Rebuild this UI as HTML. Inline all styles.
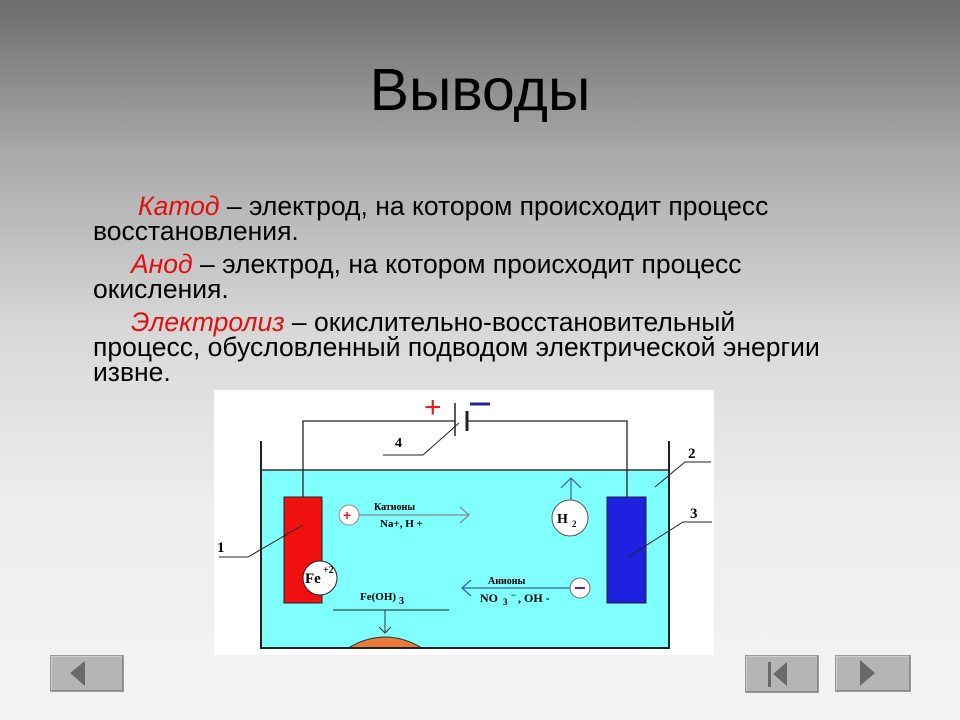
<!DOCTYPE html>
<html><head><meta charset="utf-8"><style>
html,body{margin:0;padding:0}
body{width:960px;height:720px;overflow:hidden;position:relative;background:linear-gradient(#6c6c6c 0px,#a8a8a8 150px,#d8d8d8 330px,#ededed 500px,#f4f4f4 720px);font-family:"Liberation Sans",sans-serif}
h1{position:absolute;left:0;width:960px;top:56px;margin:0;text-align:center;font-weight:normal;font-size:59px;color:#000}
.t{position:absolute;left:93px;width:750px;font-size:26.5px;line-height:25px;color:#000}
.r{color:#e01010;font-style:italic}
.btn{position:absolute;background:#b5b5b5;border:1px solid #9a9a9a;box-shadow:inset -1px -1px 0 #8a8a8a,inset 1px 1px 0 #ccc}
</style></head><body>
<h1>Выводы</h1>
<div class="t" style="top:194px"><span style="padding-left:45px"></span><span class="r">Катод</span> – электрод, на котором происходит процесс восстановления.</div>
<div class="t" style="top:252px"><span style="padding-left:38px"></span><span class="r">Анод</span> – электрод, на котором происходит процесс окисления.</div>
<div class="t" style="top:310px"><span style="padding-left:38px"></span><span class="r">Электролиз</span> – окислительно-восстановительный процесс, обусловленный подводом электрической энергии извне.</div>
<svg style="position:absolute;left:0;top:0" width="960" height="720" font-family="Liberation Serif,serif" font-weight="bold">
<rect x="214" y="390" width="500" height="265" fill="#fff"/>
<rect x="261" y="470" width="408" height="178" fill="#80ffff"/>
<path d="M348 648 Q385 626 422 648Z" fill="#e87a3c" stroke="#333"/>
<path d="M261 441V648H669V441" fill="none" stroke="#222" stroke-width="2"/>
<line x1="261" y1="470" x2="669" y2="470" stroke="#333" stroke-width="1.5"/>
<path d="M303 497V421H455M467 421H627V497" fill="none" stroke="#222" stroke-width="1.3"/>
<line x1="455" y1="403" x2="455" y2="436" stroke="#222" stroke-width="1.5"/>
<line x1="467" y1="411" x2="467" y2="431" stroke="#222" stroke-width="3"/>
<text x="424" y="417" font-size="30" fill="#e02020" font-family="Liberation Sans" font-weight="normal">+</text>
<line x1="470" y1="404" x2="490" y2="404" stroke="#2020a0" stroke-width="3"/>
<path d="M383 455H423L459 423" fill="none" stroke="#222"/>
<text x="395" y="447" font-size="14">4</text>
<rect x="284" y="497" width="38" height="106" fill="#f01010" stroke="#222"/>
<rect x="607" y="497" width="39" height="106" fill="#2020e0" stroke="#222"/>
<path d="M219 557H248L303 525" fill="none" stroke="#222"/>
<text x="217" y="552" font-size="15">1</text>
<path d="M655 487L685 462H711" fill="none" stroke="#222"/>
<text x="688" y="458" font-size="15">2</text>
<path d="M628 557L683 522H712" fill="none" stroke="#222"/>
<text x="690" y="518" font-size="15">3</text>
<circle cx="320" cy="578" r="17" fill="#fff" stroke="#222"/>
<text x="305" y="583" font-size="15">Fe</text><text x="323" y="573" font-size="10">+2</text>
<circle cx="349" cy="515" r="10" fill="#fff" stroke="#888"/>
<text x="343" y="520" font-size="14" fill="#e02020" font-family="Liberation Sans">+</text>
<path d="M359 515H469M460 507L469 515L460 523" fill="none" stroke="#888" stroke-width="1.2"/>
<text x="374" y="510" font-size="10">Катионы</text>
<text x="380" y="527" font-size="11">Na+, H +</text>
<circle cx="570" cy="518" r="18" fill="#fff" stroke="#555"/>
<text x="557" y="523" font-size="14">H</text><text x="572" y="527" font-size="9">2</text>
<path d="M571 500V478M561 488L571 478L581 488" fill="none" stroke="#3060b0" stroke-width="1.2"/>
<circle cx="580" cy="588" r="10" fill="#fff" stroke="#666"/>
<line x1="575" y1="588" x2="585" y2="588" stroke="#702090" stroke-width="2"/>
<path d="M570 588H462M471 580L462 588L471 596" fill="none" stroke="#3060b0" stroke-width="1.2"/>
<text x="488" y="584" font-size="10">Анионы</text>
<text x="480" y="602" font-size="12">NO</text><text x="503" y="605" font-size="9">3</text><text x="511" y="598" font-size="9">−</text><text x="518" y="602" font-size="12">, OH -</text>
<text x="360" y="600" font-size="11">Fe(OH)</text><text x="399" y="604" font-size="10">3</text>
<line x1="333" y1="610" x2="449" y2="610" stroke="#222"/>
<path d="M385 610V633M379 627L385 633L391 627" fill="none" stroke="#333"/>
</svg>
<div class="btn" style="left:50px;top:655px;width:72px;height:35px"></div>
<svg style="position:absolute;left:50px;top:655px" width="74" height="37"><polygon points="20,18 35,6 35,31" fill="#6a6a6a"/></svg>
<div class="btn" style="left:745px;top:655px;width:72px;height:36px"></div>
<svg style="position:absolute;left:745px;top:655px" width="74" height="38"><rect x="23" y="7" width="3" height="25" fill="#6a6a6a"/><polygon points="28,19 42,7 42,31" fill="#6a6a6a"/></svg>
<div class="btn" style="left:835px;top:655px;width:74px;height:35px"></div>
<svg style="position:absolute;left:835px;top:655px" width="76" height="37"><polygon points="40,18 25,5 25,31" fill="#6a6a6a"/></svg>
</body></html>
